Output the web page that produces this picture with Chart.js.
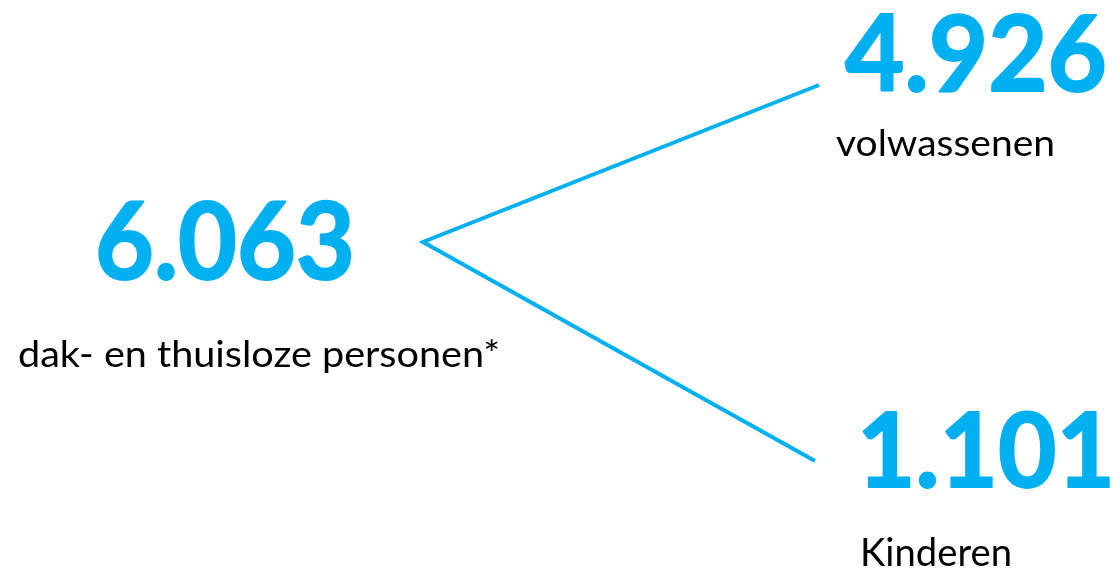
<!DOCTYPE html>
<html>
<head>
<meta charset="utf-8">
<script src="https://cdn.jsdelivr.net/npm/chart.js@4"></script>
<style>
  html, body { margin: 0; padding: 0; background: #fff; }
  #wrap { width: 1120px; height: 568px; }
</style>
</head>
<body>
<div id="wrap"><canvas id="chart" width="1120" height="568"></canvas></div>
<script>
// data
const nodeLabels = ['dak- en thuisloze personen*', 'volwassenen', 'Kinderen'];
const nodeValues = [6063, 4926, 1101];
const links = [[0, 1], [0, 2]];   // total -> parts

// layout (plot units = pixels of the 1120x568 picture)
const anchors = [{ x: 423, y: 242 }, { x: 819, y: 85 }, { x: 815, y: 461 }];
const valueBoxes = [
    { left: 95, base: 279, width: 260, cap: 77 },
    { left: 845, base: 91, width: 262, cap: 76 },
    { left: 857, base: 487, width: 258, cap: 75 }
];
const labelBoxes = [
    { left: 18, base: 367, width: 482, cap: 27 },
    { left: 836, base: 156, width: 219, cap: 27 },
    { left: 860, base: 566, width: 152, cap: 28 }
];

const BLUE = '#00B0F0';

function fmt(v) {
    return String(v).replace(/\B(?=(\d{3})+(?!\d))/g, '.');
}

// one polyline: part1 -> total -> part2, so the tip gets a sharp join
const path = [anchors[links[0][1]], anchors[links[0][0]], anchors[links[1][1]]];

// draw text so its cap height and width match the box
function fitText(ctx, text, box, weight, color, xs, ys, extra) {
    const size = box.cap / 0.72;   // Lato cap height ~0.72em
    ctx.font = weight + ' ' + size + 'px Lato, "Open Sans", sans-serif';
    const w = ctx.measureText(text).width;
    const x = xs.getPixelForValue(box.left);
    const y = ys.getPixelForValue(box.base);
    const targetW = xs.getPixelForValue(box.left + box.width) - x;
    ctx.save();
    ctx.translate(x, y);
    ctx.scale(targetW / w, 1);
    ctx.fillStyle = color;
    ctx.textAlign = 'left';
    ctx.textBaseline = 'alphabetic';
    ctx.fillText(text, 0, 0);
    if (extra) {   // heavier look, closer to the original bold face
        ctx.strokeStyle = color;
        ctx.lineWidth = extra;
        ctx.lineJoin = 'round';
        ctx.strokeText(text, 0, 0);
    }
    ctx.restore();
}

const textPlugin = {
    id: 'nodeText',
    afterDatasetsDraw(chart) {
        const ctx = chart.ctx;
        const xs = chart.scales.x, ys = chart.scales.y;
        nodeValues.forEach((v, i) => {
            fitText(ctx, fmt(v), valueBoxes[i], '700', BLUE, xs, ys, 2);
            fitText(ctx, nodeLabels[i], labelBoxes[i], '400', '#000', xs, ys, 0);
        });
    }
};

new Chart(document.getElementById('chart'), {
    type: 'scatter',
    data: {
        datasets: [{
            data: path,
            showLine: true,
            borderColor: BLUE,
            borderWidth: 4,
            borderJoinStyle: 'miter',
            borderCapStyle: 'butt',
            pointRadius: 0,
            fill: false
        }]
    },
    options: {
        responsive: false,
        animation: false,
        layout: { padding: 0 },
        plugins: { legend: { display: false }, tooltip: { enabled: false } },
        scales: {
            x: { type: 'linear', min: 0, max: 1120, display: false },
            y: { type: 'linear', min: 0, max: 568, reverse: true, display: false }
        }
    },
    plugins: [textPlugin]
});
</script>
</body>
</html>
